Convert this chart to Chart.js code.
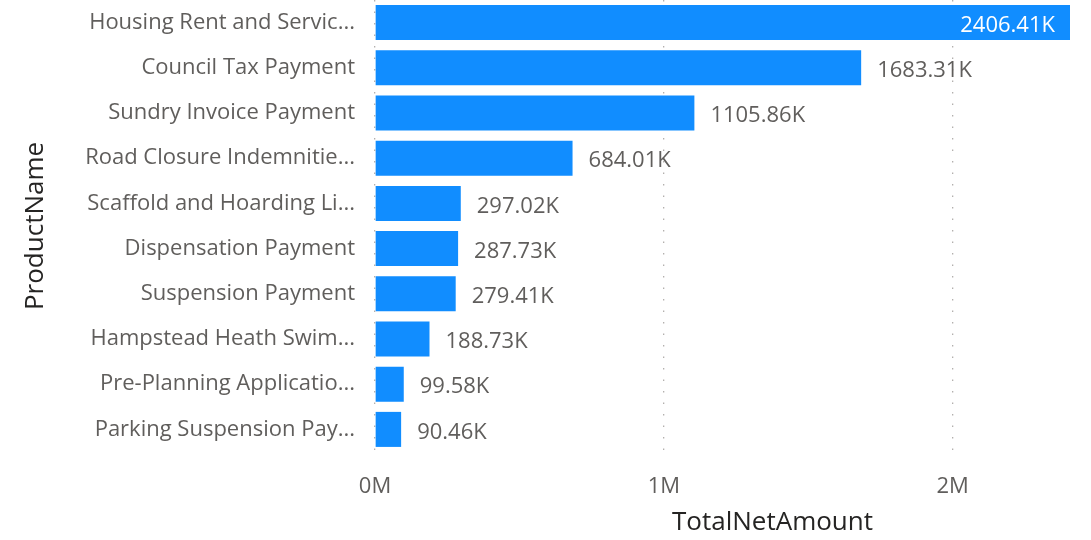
<!DOCTYPE html>
<html>
<head>
<meta charset="utf-8">
<script src="https://cdn.jsdelivr.net/npm/chart.js@4"></script>
<style>
  html, body { margin: 0; padding: 0; background: #fff; }
  #wrap { width: 1091px; height: 540px; position: relative; }
</style>
</head>
<body>
<div id="wrap"><canvas id="chart"></canvas></div>
<script>
const productNames = [
    "Housing Rent and Servic...",
    "Council Tax Payment",
    "Sundry Invoice Payment",
    "Road Closure Indemnitie...",
    "Scaffold and Hoarding Li...",
    "Dispensation Payment",
    "Suspension Payment",
    "Hampstead Heath Swim...",
    "Pre-Planning Applicatio...",
    "Parking Suspension Pay..."
];
const totalNetAmount = [2406410, 1683310, 1105860, 684010, 297020, 287730, 279410, 188730, 99580, 90460];
const xTicks = [0, 1000000, 2000000];
const xTitle = "TotalNetAmount";

const FONT = "'Open Sans', 'Noto Sans', sans-serif";

function fmtK(v) {
    return (v / 1000).toFixed(2) + "K";
}

// value labels at the end of each bar, moved inside when they don't fit
const barLabels = {
    id: "barLabels",
    afterDatasetsDraw(chart) {
        const ctx = chart.ctx;
        const meta = chart.getDatasetMeta(0);
        const area = chart.chartArea;
        ctx.save();
        ctx.font = "22px " + FONT;
        ctx.textBaseline = "middle";
        meta.data.forEach((bar, i) => {
            const text = fmtK(totalNetAmount[i]);
            const w = ctx.measureText(text).width;
            const y = bar.y + 3;
            if (bar.x + 16 + w > area.right) {
                ctx.fillStyle = "#ffffff";
                ctx.textAlign = "right";
                ctx.fillText(text, bar.x - 15, y);
            } else {
                ctx.fillStyle = "#605E5C";
                ctx.textAlign = "left";
                ctx.fillText(text, bar.x + 16, y);
            }
        });
        ctx.restore();
    }
};

// x axis title, sitting a bit right of the plot centre
const xAxisTitle = {
    id: "xAxisTitle",
    afterDraw(chart) {
        const ctx = chart.ctx;
        const area = chart.chartArea;
        ctx.save();
        ctx.font = "26px " + FONT;
        ctx.fillStyle = "#252423";
        ctx.textAlign = "center";
        ctx.textBaseline = "middle";
        ctx.fillText(xTitle, (area.left + area.right) / 2 + 50, chart.height - 17);
        ctx.restore();
    }
};

new Chart(document.getElementById("chart"), {
    type: "bar",
    data: {
        labels: productNames,
        datasets: [{
            data: totalNetAmount,
            backgroundColor: "#118DFF",
            categoryPercentage: 1,
            barPercentage: 0.775
        }]
    },
    options: {
        indexAxis: "y",
        responsive: true,
        maintainAspectRatio: false,
        animation: false,
        layout: { padding: { top: 0, right: 21, bottom: 0, left: 0 } },
        plugins: {
            legend: { display: false },
            tooltip: { enabled: false }
        },
        scales: {
            x: {
                min: 0,
                max: Math.max(...totalNetAmount),
                border: { display: false, dash: [1.5, 10] },
                grid: {
                    color: "#b3b0ad",
                    lineWidth: 1.3,
                    drawTicks: false
                },
                afterBuildTicks: s => { s.ticks = xTicks.map(v => ({ value: v })); },
                ticks: {
                    maxRotation: 0,
                    autoSkip: false,
                    padding: 22,
                    color: "#605E5C",
                    font: { family: FONT, size: 22 },
                    callback: v => (v / 1e6) + "M"
                },
                title: { display: false },
                afterFit: s => {
                    s.height = 88;
                    s.paddingLeft = 0;
                    s.paddingRight = 0;
                }
            },
            y: {
                border: { display: false },
                grid: { display: false },
                ticks: {
                    padding: 12,
                    color: "#605E5C",
                    font: { family: FONT, size: 22 }
                },
                title: {
                    display: true,
                    text: "ProductName",
                    color: "#252423",
                    font: { family: FONT, size: 26 },
                    padding: { top: 20, bottom: 0 }
                },
                afterFit: s => {
                    s.width = 375;
                    s.paddingTop = 0;
                    s.paddingBottom = 0;
                }
            }
        }
    },
    plugins: [barLabels, xAxisTitle]
});
</script>
</body>
</html>
